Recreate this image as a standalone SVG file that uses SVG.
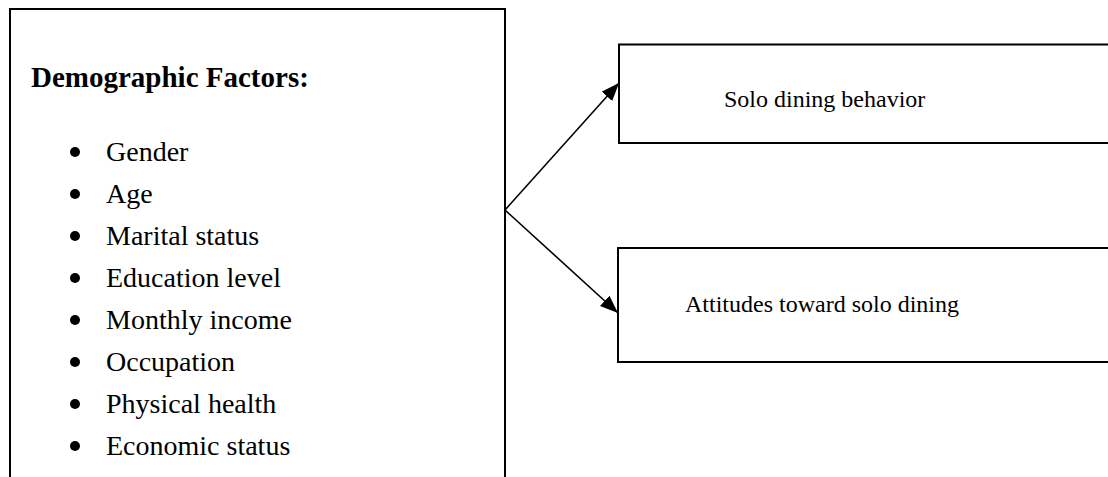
<svg xmlns="http://www.w3.org/2000/svg" width="1108" height="477" viewBox="0 0 1108 477">
  <style>
    .box { fill: #ffffff; stroke: #000000; stroke-width: 2; }
    .list { font-family: "Liberation Serif", "Times New Roman", serif; font-size: 28px; fill: #000000; }
    .title { font-family: "Liberation Serif", "Times New Roman", serif; font-size: 29px; font-weight: bold; fill: #000000; }
    .label { font-family: "Liberation Serif", "Times New Roman", serif; font-size: 24px; fill: #000000; }
    .conn { stroke: #000000; stroke-width: 1.6; fill: none; }
    .bullet { fill: #000000; }
  </style>
  <defs>
    <marker id="arrow" markerWidth="18" markerHeight="14" refX="18" refY="7" orient="auto" markerUnits="userSpaceOnUse">
      <path d="M0,0 L18,7 L0,14 Z" fill="#000000"/>
    </marker>
  </defs>
  <rect width="1108" height="477" fill="#ffffff"/>

  <g id="demographic-factors">
    <rect class="box" x="10" y="9" width="495" height="480"/>
    <text class="title" x="31" y="87">Demographic Factors:</text>
    <circle class="bullet" cx="75" cy="152" r="5"/>
    <text class="list" x="106" y="161">Gender</text>
    <circle class="bullet" cx="75" cy="194" r="5"/>
    <text class="list" x="106" y="203">Age</text>
    <circle class="bullet" cx="75" cy="236" r="5"/>
    <text class="list" x="106" y="245">Marital status</text>
    <circle class="bullet" cx="75" cy="278" r="5"/>
    <text class="list" x="106" y="287">Education level</text>
    <circle class="bullet" cx="75" cy="320" r="5"/>
    <text class="list" x="106" y="329">Monthly income</text>
    <circle class="bullet" cx="75" cy="362" r="5"/>
    <text class="list" x="106" y="371">Occupation</text>
    <circle class="bullet" cx="75" cy="404" r="5"/>
    <text class="list" x="106" y="413">Physical health</text>
    <circle class="bullet" cx="75" cy="446" r="5"/>
    <text class="list" x="106" y="455">Economic status</text>
  </g>

  <g id="solo-dining-behavior">
    <rect class="box" x="619" y="44.5" width="500" height="98.5"/>
    <text class="label" x="724" y="107">Solo dining behavior</text>
  </g>

  <g id="attitudes-toward-solo-dining">
    <rect class="box" x="618" y="248" width="500" height="114"/>
    <text class="label" x="685" y="312">Attitudes toward solo dining</text>
  </g>

  <g id="connectors">
    <line class="conn" x1="505" y1="210" x2="619" y2="83" marker-end="url(#arrow)"/>
    <line class="conn" x1="505" y1="210" x2="618" y2="313" marker-end="url(#arrow)"/>
  </g>
</svg>
